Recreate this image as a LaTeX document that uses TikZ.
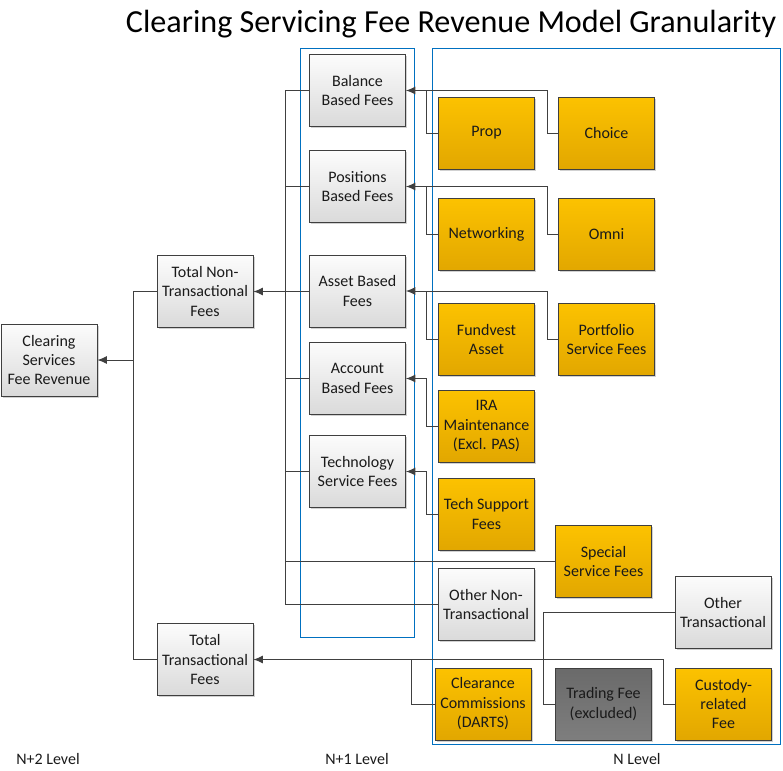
\documentclass[tikz,border=0pt]{standalone}
\usepackage{fontspec}
\setmainfont{Carlito}
\usetikzlibrary{arrows.meta,shadows,backgrounds}
\definecolor{lineC}{HTML}{404040}
\definecolor{boxBorder}{HTML}{3F3F3F}
\definecolor{blueC}{HTML}{0070C0}
\definecolor{orTop}{HTML}{FCC200}
\definecolor{orBot}{HTML}{E2A700}
\definecolor{gyTop}{HTML}{FCFCFC}
\definecolor{gyBot}{HTML}{DADADA}
\definecolor{dkTop}{HTML}{6A6A6A}
\definecolor{dkBot}{HTML}{7E7E7E}
\definecolor{txtC}{HTML}{1A1A1A}
\tikzset{
  basebox/.style={rectangle, draw=boxBorder, line width=0.75pt, minimum width=72pt, minimum height=54pt,
    inner sep=1pt, align=center, text=txtC, font=\fontsize{12}{14.6}\selectfont,
    drop shadow={shadow xshift=1.4pt, shadow yshift=-1.4pt, fill=black, opacity=0.18}},
  gbox/.style={basebox, top color=gyTop, bottom color=gyBot},
  obox/.style={basebox, top color=orTop, bottom color=orBot},
  dbox/.style={basebox, top color=dkTop, bottom color=dkBot},
  conn/.style={draw=lineC, line width=0.75pt},
  arr/.style={conn, -{Latex[length=7pt,width=6pt]}},
  container/.style={draw=blueC, line width=0.75pt},
  lvl/.style={text=txtC, font=\fontsize{12}{14}\selectfont, inner sep=0pt}
}
\begin{document}
\begin{tikzpicture}[x=0.75pt,y=-0.75pt]
\useasboundingbox (0,0) rectangle (783,771);
% title
\node[text=black, font=\fontsize{24.1}{27}\selectfont, inner sep=0pt] (title) at (451,24) {Clearing Servicing Fee Revenue Model Granularity};
% level labels
\node[lvl] (l2) at (48,759) {N+2 Level};
\node[lvl] (l1) at (357,759) {N+1 Level};
\node[lvl] (l0) at (637,759) {N Level};
% trunk coordinates
\coordinate (t0) at (133,0);
\coordinate (t1) at (285,0);
\coordinate (bA) at (426.7,0);
\coordinate (bB) at (547,0);
\coordinate (cA) at (663,0);
\coordinate (cB) at (411,0);
\coordinate (cC) at (543.5,0);
% nodes
\node[gbox] (csfr) at (49,360) {Clearing\\Services\\Fee Revenue};
\node[gbox] (tnt) at (205,291.5) {Total Non-\\Transactional\\Fees};
\node[gbox] (tt) at (205,659.5) {Total\\Transactional\\Fees};
\node[gbox] (bal) at (357.5,90.5) {Balance\\Based Fees};
\node[gbox] (pos) at (357.5,186.5) {Positions\\Based Fees};
\node[gbox] (asset) at (357.5,291) {Asset Based\\Fees};
\node[gbox] (acct) at (357.5,378.5) {Account\\Based Fees};
\node[gbox] (tech) at (357.5,471.5) {Technology\\Service Fees};
\node[obox] (prop) at (486.5,133) {Prop};
\node[obox] (choice) at (606.5,133) {Choice};
\node[obox] (netw) at (486.5,234.5) {Networking};
\node[obox] (omni) at (606.5,234.5) {Omni};
\node[obox] (fund) at (486.5,339.5) {Fundvest\\Asset};
\node[obox] (port) at (606.5,339.5) {Portfolio\\Service Fees};
\node[obox] (ira) at (486.5,426) {IRA\\Maintenance\\(Excl. PAS)};
\node[obox] (techs) at (486.5,514) {Tech Support\\Fees};
\node[obox] (special) at (603.5,561.5) {Special\\Service Fees};
\node[gbox] (othernt) at (486,604.5) {Other Non-\\Transactional};
\node[gbox] (othert) at (723,612.5) {Other\\Transactional};
\node[obox] (clear) at (483,704) {Clearance\\Commissions\\(DARTS)};
\node[dbox] (trading) at (603.5,704) {Trading Fee\\(excluded)};
\node[obox] (custody) at (723.5,704) {Custody-\\related\\Fee};
\begin{scope}[on background layer]
% containers
\draw[container] (300,48) rectangle (414,637);
\draw[container] (432.7,48) rectangle (780.5,744);
% level 2 trunk
\draw[conn] (tnt.west) -- (tnt.west -| t0) -- (tt.west -| t0) -- (tt.west);
\draw[arr] (csfr.east -| t0) -- (csfr.east);
% level 1 trunk
\draw[conn] (bal.west) -- (bal.west -| t1) -- (othernt.west -| t1) -- (othernt.west);
\draw[conn] (pos.west) -- (pos.west -| t1);
\draw[conn] (asset.west) -- (asset.west -| t1);
\draw[conn] (acct.west) -- (acct.west -| t1);
\draw[conn] (tech.west) -- (tech.west -| t1);
\draw[conn] (special.west) -- (special.west -| t1);
\draw[arr] (tnt.east -| t1) -- (tnt.east);
% level 0 to level 1
\draw[conn] (prop.west) -- (prop.west -| bA) -- (bal.east -| bA);
\draw[arr] (choice.west) -- (choice.west -| bB) -- (bal.east -| bB) -- (bal.east);
\draw[conn] (netw.west) -- (netw.west -| bA) -- (pos.east -| bA);
\draw[arr] (omni.west) -- (omni.west -| bB) -- (pos.east -| bB) -- (pos.east);
\draw[conn] (fund.west) -- (fund.west -| bA) -- (asset.east -| bA);
\draw[arr] (port.west) -- (port.west -| bB) -- (asset.east -| bB) -- (asset.east);
\draw[arr] (ira.west) -- (ira.west -| bA) -- (acct.east -| bA) -- (acct.east);
\draw[arr] (techs.west) -- (techs.west -| bA) -- (tech.east -| bA) -- (tech.east);
% transactional
\draw[arr] (custody.west) -- (custody.west -| cA) -- (tt.east -| cA) -- (tt.east);
\draw[conn] (clear.west) -- (clear.west -| cB) -- (tt.east -| cB);
\draw[conn] (trading.west) -- (trading.west -| cC) -- (othert.west -| cC) -- (othert.west);
\end{scope}
\end{tikzpicture}
\end{document}
